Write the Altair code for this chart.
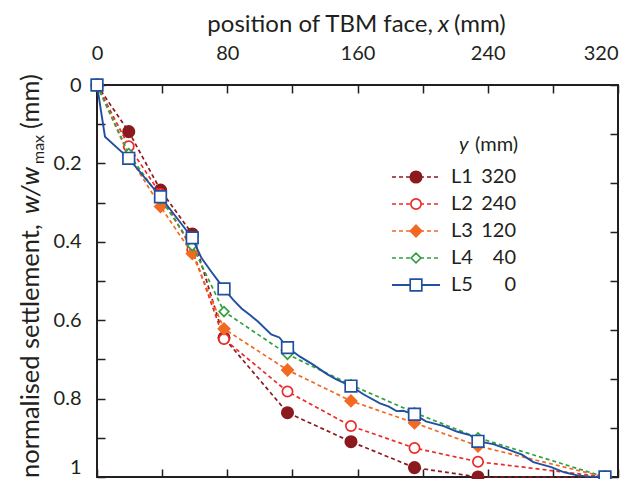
import altair as alt
import pandas as pd

# ---------------- data ----------------
x_pos = [0, 19.5, 39, 58.5, 78, 117, 156, 195, 234, 312]
L1 = [0, 0.119, 0.268, 0.380, 0.645, 0.836, 0.910, 0.976, 1.0, 1.0]
L2 = [0, 0.156, 0.278, 0.420, 0.648, 0.782, 0.870, 0.926, 0.961, 1.0]
L3 = [0, 0.180, 0.310, 0.430, 0.622, 0.727, 0.806, 0.862, 0.921, 1.0]
L4 = [0, 0.175, 0.290, 0.410, 0.578, 0.687, 0.765, 0.836, 0.900, 1.0]
L5 = [0, 0.187, 0.285, 0.390, 0.520, 0.670, 0.768, 0.840, 0.909, 1.0]

L5_line_x = [0, 4.9, 19.5, 39, 58.5, 64, 70, 75, 78, 83.7, 88.8, 94, 99, 107, 112,
             117, 124.7, 133, 141, 147, 156, 163.6, 173.8, 179, 184, 188, 195, 202,
             213, 221, 229, 234, 243.4, 252, 261, 268, 279, 287, 295, 303, 312]
L5_line_y = [0, 0.132, 0.187, 0.285, 0.39, 0.44, 0.475, 0.503, 0.520, 0.548, 0.570,
             0.587, 0.604, 0.636, 0.644, 0.670, 0.693, 0.714, 0.737, 0.751, 0.768,
             0.789, 0.812, 0.820, 0.832, 0.831, 0.840, 0.858, 0.870, 0.884, 0.893,
             0.909, 0.916, 0.929, 0.943, 0.962, 0.975, 0.988, 0.996, 0.999, 1.0]

series_names = ["L1", "L2", "L3", "L4", "L5"]
series_depth = ["320", "240", "120", "40", "0"]
series_values = [L1, L2, L3, L4, L5]

x_ticks = [0, 40, 80, 120, 160, 200, 240, 280, 320]
y_ticks = [0, 0.1, 0.2, 0.3, 0.4, 0.5, 0.6, 0.7, 0.8, 0.9, 1.0]
y_ticks_right = [0, 0.125, 0.25, 0.375, 0.5, 0.625, 0.75, 0.875, 1.0]

# ---------------- styles ----------------
FONT = "Lato"
INK = "#231f20"
colors = ["#8B1A1F", "#ED2A2A", "#F26A22", "#33A040", "#2150A0"]
shapes = ["circle", "circle", "diamond", "diamond", "square"]
filled = [True, False, True, False, False]
sizes = [130, 105, 130, 95, 135]
dashed = [True, True, True, True, False]

x_scale = alt.Scale(domain=[0, 320], nice=False, zero=False)
y_scale = alt.Scale(domain=[0, 1], reverse=True, nice=False, zero=False)

pts = pd.DataFrame({"x": x_pos, "y": L5})
one = pd.DataFrame({"a": [1]})

common_axis = dict(offset=-8, tickSize=8, tickWidth=1.5, tickColor=INK,
                   domain=False, grid=False, title=None, labelFlush=False,
                   labelFont=FONT, labelColor=INK, labelFontSize=20)

y_label_expr = ("round(datum.value*10) % 2 == 0 ? "
                "(datum.value == 0 ? '0' : (datum.value == 1 ? '1' : format(datum.value, '.1f'))) : ''")

axes_tl = alt.Chart(pts).mark_point(opacity=0).encode(
    x=alt.X("x:Q", scale=x_scale, axis=alt.Axis(
        orient="top", values=x_ticks,
        labelExpr="datum.value % 80 == 0 ? format(datum.value, 'd') : ''",
        labelAlign={"condition": {"test": "datum.value >= 320", "value": "right"},
                    "value": "center"},
        labelPadding=22, **common_axis)),
    y=alt.Y("y:Q", scale=y_scale, axis=alt.Axis(
        orient="left", values=y_ticks, labelExpr=y_label_expr,
        labelBaseline={"condition": {"test": "datum.value >= 1", "value": "alphabetic"},
                       "value": "middle"},
        labelOffset={"condition": {"test": "datum.value >= 1", "value": -4},
                     "value": 0},
        labelPadding=16, **common_axis)),
)

axes_br = alt.Chart(pts).mark_point(opacity=0).encode(
    x=alt.X("x:Q", scale=x_scale, axis=alt.Axis(
        orient="bottom", values=x_ticks, labels=False, **common_axis)),
    y=alt.Y("y:Q", scale=y_scale, axis=alt.Axis(
        orient="right", values=y_ticks_right, labels=False, **common_axis)),
)

layers = [axes_tl, axes_br]

for i, name in enumerate(series_names):
    df = pd.DataFrame({"x": x_pos, "y": series_values[i]})
    if name == "L5":
        ldf = pd.DataFrame({"x": L5_line_x, "y": L5_line_y})
    else:
        ldf = df
    line_kw = dict(color=colors[i], strokeWidth=1.9 if not dashed[i] else 1.7)
    if dashed[i]:
        line_kw["strokeDash"] = [4, 3]
    line = alt.Chart(ldf).mark_line(**line_kw).encode(
        x=alt.X("x:Q", scale=x_scale, axis=None),
        y=alt.Y("y:Q", scale=y_scale, axis=None),
    )
    pkw = dict(shape=shapes[i], size=sizes[i], opacity=1, filled=True,
               stroke=colors[i], strokeWidth=1.7,
               fill=colors[i] if filled[i] else "white")
    pnt = alt.Chart(df).mark_point(**pkw).encode(
        x=alt.X("x:Q", scale=x_scale, axis=None),
        y=alt.Y("y:Q", scale=y_scale, axis=None),
    )
    layers += [line, pnt]

# ---------------- legend (manual) ----------------
leg_y0 = 92
leg_dy = 27
for i, name in enumerate(series_names):
    yy = leg_y0 + leg_dy * i
    rkw = dict(color=colors[i], strokeWidth=1.9 if not dashed[i] else 1.7)
    if dashed[i]:
        rkw["strokeDash"] = [4, 3]
    layers.append(alt.Chart(one).mark_rule(**rkw).encode(
        x=alt.value(295), x2=alt.value(343), y=alt.value(yy)))
    layers.append(alt.Chart(one).mark_point(
        shape=shapes[i], size=sizes[i], opacity=1, filled=True,
        stroke=colors[i], strokeWidth=1.7,
        fill=colors[i] if filled[i] else "white").encode(
        x=alt.value(319), y=alt.value(yy)))
    layers.append(alt.Chart(one).mark_text(
        text=name, font=FONT, fontSize=20, color=INK, align="left",
        baseline="middle").encode(x=alt.value(354), y=alt.value(yy)))
    layers.append(alt.Chart(one).mark_text(
        text=series_depth[i], font=FONT, fontSize=20, color=INK, align="right",
        baseline="middle").encode(x=alt.value(419), y=alt.value(yy)))

layers.append(alt.Chart(one).mark_text(
    text="y", font=FONT, fontSize=20, fontStyle="italic", color=INK,
    align="left", baseline="middle").encode(x=alt.value(362), y=alt.value(60)))
layers.append(alt.Chart(one).mark_text(
    text="(mm)", font=FONT, fontSize=20, color=INK,
    align="left", baseline="middle").encode(x=alt.value(378), y=alt.value(60)))

# ---------------- axis titles (manual, for italic / subscript) ----------------
layers.append(alt.Chart(one).mark_text(
    text="position of TBM face,", font=FONT, fontSize=24, color=INK,
    align="right", baseline="alphabetic").encode(x=alt.value(336), y=alt.value(-53)))
layers.append(alt.Chart(one).mark_text(
    text="x", font=FONT, fontSize=24, fontStyle="italic", color=INK,
    align="left", baseline="alphabetic").encode(x=alt.value(341), y=alt.value(-53)))
layers.append(alt.Chart(one).mark_text(
    text="(mm)", font=FONT, fontSize=24, color=INK,
    align="left", baseline="alphabetic").encode(x=alt.value(357), y=alt.value(-53)))

layers.append(alt.Chart(one).mark_text(
    text="normalised settlement,", font=FONT, fontSize=25.5, color=INK, angle=270,
    align="left", baseline="alphabetic").encode(x=alt.value(-58), y=alt.value(393)))
layers.append(alt.Chart(one).mark_text(
    text="w/w", font=FONT, fontSize=25.5, fontStyle="italic", color=INK, angle=270,
    align="left", baseline="alphabetic").encode(x=alt.value(-58), y=alt.value(129)))
layers.append(alt.Chart(one).mark_text(
    text="max", font=FONT, fontSize=16, color=INK, angle=270,
    align="left", baseline="alphabetic").encode(x=alt.value(-53), y=alt.value(79)))
layers.append(alt.Chart(one).mark_text(
    text="(mm)", font=FONT, fontSize=25.5, color=INK, angle=270,
    align="left", baseline="alphabetic").encode(x=alt.value(-58), y=alt.value(44)))

chart = alt.layer(*layers).resolve_axis(
    x="independent", y="independent"
).properties(
    width=521, height=392,
    padding={"left": 89, "top": 77, "right": 12, "bottom": 2},
    autosize=alt.AutoSizeParams(type="none"),
    background="white",
).configure_view(stroke=INK, strokeWidth=2)

chart.save("out.html", embed_options={"renderer": "svg", "actions": False})
